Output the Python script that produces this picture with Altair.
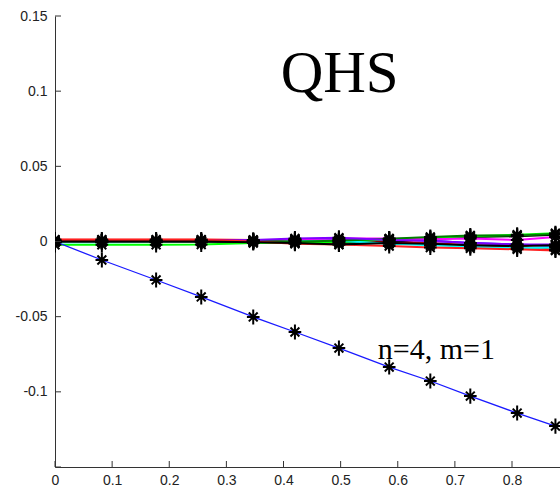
import altair as alt
import pandas as pd

# sample positions shared by every run
x_vals = [0, 0.082, 0.177, 0.256, 0.347, 0.42, 0.497, 0.585, 0.657, 0.727, 0.809, 0.876]

# the run that drifts away: n=4, m=1
y_n4m1 = [0, -0.0123, -0.0256, -0.0369, -0.0502, -0.0602, -0.0709, -0.0835,
          -0.0928, -0.1028, -0.1141, -0.1228]

# the other runs stay close to zero
y_red1 = [0.0013, 0.0013, 0.0013, 0.0013, 0.0010, 0.0010, 0.0005, 0.0, -0.0010, -0.0025, -0.0035, -0.0055]
y_blue = [0.0, 0.0, 0.0003, 0.0003, 0.0003, 0.0008, 0.0010, 0.0015, 0.0005, -0.0010, -0.0020, -0.0030]
y_black1 = [-0.0004, -0.0004, -0.0004, -0.0004, -0.0005, -0.0008, -0.0010, -0.0005, 0.0020, 0.0030, 0.0035, 0.0045]
y_green = [-0.0022, -0.0022, -0.0022, -0.0020, -0.0010, -0.0008, -0.0005, 0.0015, 0.0025, 0.0035, 0.0045, 0.0055]
y_cyan = [-0.0005, -0.0005, -0.0003, 0.0, 0.0005, 0.0010, 0.0005, -0.0015, -0.0025, -0.0035, -0.0045, -0.0040]
y_magenta = [0.0, 0.0, 0.0, 0.0, 0.0003, 0.0015, 0.0020, 0.0020, 0.0015, 0.0020, 0.0010, 0.0030]
y_dkgreen = [0.0, 0.0, 0.0, 0.0, 0.0005, 0.0, 0.0005, 0.0018, 0.0030, 0.0040, 0.0040, 0.0050]
y_purple = [0.0003, 0.0003, 0.0003, 0.0005, 0.0010, 0.0020, 0.0025, 0.0010, 0.0005, -0.0010, -0.0020, -0.0020]
y_red2 = [0.0010, 0.0010, 0.0010, 0.0010, 0.0, -0.0015, -0.0020, -0.0030, -0.0040, -0.0045, -0.0052, -0.0060]
y_black2 = [0.0, 0.0, 0.0, 0.0, -0.0005, -0.0010, -0.0020, -0.0010, -0.0015, -0.0025, -0.0030, -0.0025]

run_names = ["red1", "blue", "black1", "green", "cyan", "magenta", "dkgreen", "purple", "red2", "black2"]
run_values = [y_red1, y_blue, y_black1, y_green, y_cyan, y_magenta, y_dkgreen, y_purple, y_red2, y_black2]
run_colors = ["#ff0000", "#0000ff", "#000000", "#00ff00", "#00ffff", "#ff00ff",
              "#008000", "#8000ff", "#ff2020", "#000000"]

x_ticks = [0, 0.1, 0.2, 0.3, 0.4, 0.5, 0.6, 0.7, 0.8]
y_ticks = [-0.15, -0.1, -0.05, 0, 0.05, 0.1, 0.15]
y_labels = [-0.1, -0.05, 0, 0.05, 0.1, 0.15]

note_text = ["QHS", "n=4, m=1"]
note_x = [0.395, 0.565]
note_y = [0.0995, -0.078]
note_size = [59, 30]

W, H = 505, 451

rows = []
for name, vals in zip(run_names, run_values):
    for xv, yv in zip(x_vals, vals):
        rows.append({"x": xv, "y": yv, "run": name})
runs = pd.DataFrame(rows)
drift = pd.DataFrame({"x": x_vals, "y": y_n4m1})
stars = pd.concat([runs[["x", "y"]], drift], ignore_index=True)
notes = pd.DataFrame({"label": note_text, "x": note_x, "y": note_y, "fs": note_size})

xs = alt.Scale(domain=[0, 0.884], nice=False, zero=False)
ys = alt.Scale(domain=[-0.15, 0.15], nice=False, zero=False)

axis_style = dict(
    title=None, labelFlush=False, tickSize=0, labelExpr="'' + datum.value",
    labelFont="Liberation Sans", labelFontSize=14, labelColor="#222222",
    domainColor="#333333", grid=False,
)
x_axis = alt.Axis(values=x_ticks, labelPadding=6, **axis_style)
y_axis = alt.Axis(values=y_labels, labelPadding=8, **axis_style)

lines = alt.Chart(runs).mark_line(strokeWidth=2, clip=True).encode(
    x=alt.X("x:Q", scale=xs, axis=x_axis),
    y=alt.Y("y:Q", scale=ys, axis=y_axis),
    color=alt.Color("run:N", scale=alt.Scale(domain=run_names, range=run_colors), legend=None),
)

drift_line = alt.Chart(drift).mark_line(strokeWidth=1.3, color="#1a1aff", clip=True).encode(
    x=alt.X("x:Q", scale=xs),
    y=alt.Y("y:Q", scale=ys),
)

asterisk = "M-1,0L1,0M0,-1.2L0,1.2M-0.7,-0.7L0.7,0.7M-0.7,0.7L0.7,-0.7"
star_marks = alt.Chart(stars).mark_point(
    shape=asterisk, size=160, filled=False, stroke="#000000", strokeWidth=2,
    opacity=1, clip=True
).encode(
    x=alt.X("x:Q", scale=xs),
    y=alt.Y("y:Q", scale=ys),
)

labels = alt.Chart(notes).mark_text(
    font="Liberation Serif", align="left", baseline="alphabetic", color="#000000"
).encode(
    x=alt.X("x:Q", scale=xs),
    y=alt.Y("y:Q", scale=ys),
    text="label:N",
    size=alt.Size("fs:Q", scale=None),
)

# inward-pointing ticks
x_tick_marks = alt.Chart(pd.DataFrame({"t": x_ticks})).mark_rule(color="#333333").encode(
    x=alt.X("t:Q", scale=xs), y=alt.value(H), y2=alt.value(H - 6)
)
y_tick_marks = alt.Chart(pd.DataFrame({"t": y_ticks})).mark_rule(color="#333333").encode(
    y=alt.Y("t:Q", scale=ys), x=alt.value(0), x2=alt.value(6)
)

chart = alt.layer(
    lines, drift_line, star_marks, labels, x_tick_marks, y_tick_marks
).properties(
    width=W, height=H,
    autosize=alt.AutoSizeParams(type="none"),
    padding={"left": 55, "top": 16, "right": 0, "bottom": 23},
    background="white",
).configure_view(stroke=None)

chart.save("out.html", embed_options={"renderer": "svg", "actions": False})
